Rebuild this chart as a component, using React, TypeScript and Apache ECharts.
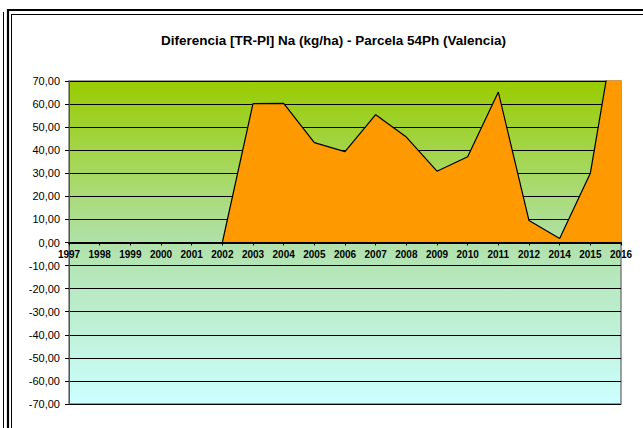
import React, { useEffect, useRef } from "react";
import * as echarts from "echarts";

const years = ["1997", "1998", "1999", "2000", "2001", "2002", "2003", "2004", "2005", "2006", "2007", "2008", "2009", "2010", "2011", "2012", "2014", "2015", "2016"];
const naDiff = [0, 0, 0, 0, 0, 0, 60.2, 60.3, 43.3, 39.4, 55.4, 45.7, 30.9, 37.2, 65.2, 9.5, 1.7, 30, 108];
const titleText = "Diferencia [TR-PI] Na (kg/ha) - Parcela 54Ph (Valencia)";
const yMin = -70;
const yMax = 70;
const yStep = 10;

const FONT = "'Liberation Sans', Arial, sans-serif";
const GRID_TOP = 81;
const GRID_BOTTOM = 24;
const H = 428;

export default function App() {
  const ref = useRef<HTMLDivElement>(null);
  useEffect(() => {
    if (!ref.current) return;
    const chart = echarts.init(ref.current, undefined, { renderer: "svg" });
    const plotH = H - GRID_TOP - GRID_BOTTOM;
    const zeroOffset = -(plotH * (0 - yMin)) / (yMax - yMin);
    chart.setOption({
      animation: false,
      backgroundColor: "#ffffff",
      grid: {
        left: 69,
        right: 22,
        top: GRID_TOP,
        bottom: GRID_BOTTOM,
        show: true,
        borderColor: "#808080",
        borderWidth: 1.5,
        backgroundColor: new echarts.graphic.LinearGradient(0, 0, 0, 1, [
          { offset: 0, color: "#99CC00" },
          { offset: 0.5, color: "#B0E1AA" },
          { offset: 1, color: "#CCFFFF" },
        ]),
      },
      xAxis: {
        type: "category",
        data: years,
        boundaryGap: false,
        position: "bottom",
        offset: zeroOffset,
        axisLine: { onZero: false, lineStyle: { color: "#000", width: 2 } },
        axisTick: { show: true, length: 3, inside: false, alignWithLabel: true, lineStyle: { color: "#000", width: 1 } },
        axisLabel: {
          interval: 0,
          margin: 7,
          color: "#000",
          fontFamily: FONT,
          fontWeight: "bold",
          fontSize: 10,
        },
        splitLine: { show: false },
        z: 10,
      },
      yAxis: {
        type: "value",
        min: yMin,
        max: yMax,
        interval: yStep,
        axisLine: { show: true, lineStyle: { color: "#555", width: 1 } },
        axisTick: { show: true, length: 4, lineStyle: { color: "#000" } },
        axisLabel: {
          margin: 9,
          color: "#000",
          fontFamily: FONT,
          fontSize: 11,
          formatter: (v: number) => v.toFixed(2).replace(".", ","),
        },
        splitLine: { show: true, lineStyle: { color: "#000", width: 1 } },
      },
      series: [
        {
          type: "line",
          data: naDiff,
          symbol: "none",
          clip: true,
          lineStyle: { color: "#000", width: 1.2 },
          areaStyle: { color: "#FF9900", opacity: 1 },
          z: 3,
        },
      ],
      graphic: [
        { type: "line", shape: { x1: 7, y1: 10, x2: 643, y2: 10 }, style: { stroke: "#000", lineWidth: 2.2 } },
        { type: "line", shape: { x1: 11.5, y1: 14.5, x2: 643, y2: 14.5 }, style: { stroke: "#000", lineWidth: 1 } },
        { type: "line", shape: { x1: 8, y1: 9, x2: 8, y2: 428 }, style: { stroke: "#000", lineWidth: 2.2 } },
        { type: "line", shape: { x1: 11.5, y1: 14, x2: 11.5, y2: 428 }, style: { stroke: "#000", lineWidth: 1 } },
        { type: "line", shape: { x1: 3.5, y1: 12, x2: 3.5, y2: 428 }, style: { stroke: "#000", lineWidth: 1 } },
        {
          type: "text",
          x: 333.5,
          y: 40.5,
          style: {
            text: titleText,
            fill: "#000",
            font: `bold 13.5px ${FONT}`,
            textAlign: "center",
            textVerticalAlign: "middle",
          },
        },
      ],
    });
    return () => chart.dispose();
  }, []);
  return <div ref={ref} style={{ position: "fixed", left: 0, top: 0, width: 643, height: 428 }} />;
}
